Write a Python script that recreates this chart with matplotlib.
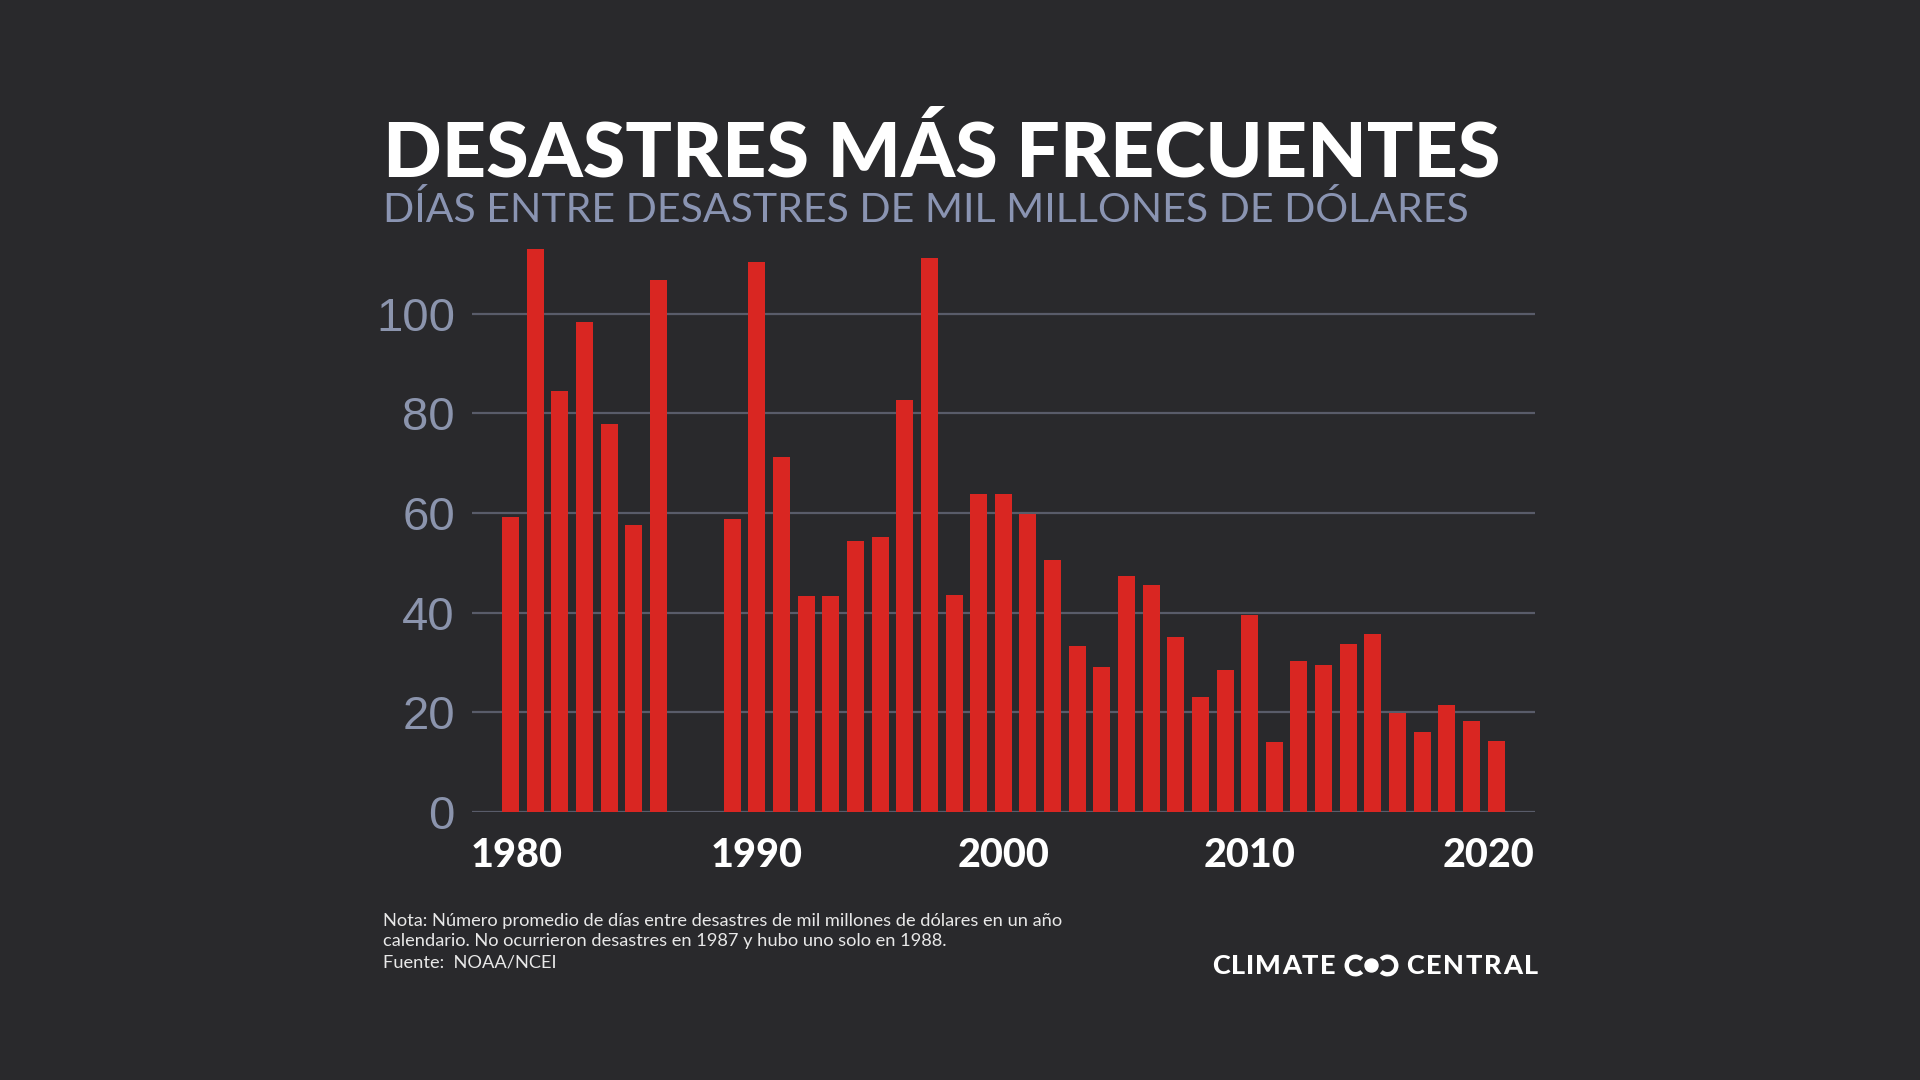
import matplotlib
matplotlib.use("Agg")
import matplotlib.pyplot as plt
from matplotlib.patches import Arc, Circle
from matplotlib.transforms import blended_transform_factory, offset_copy

# ---------------- data ----------------
years = [1980, 1981, 1982, 1983, 1984, 1985, 1986,
         1989, 1990, 1991, 1992, 1993, 1994, 1995, 1996, 1997, 1998, 1999,
         2000, 2001, 2002, 2003, 2004, 2005, 2006, 2007, 2008, 2009,
         2010, 2011, 2012, 2013, 2014, 2015, 2016, 2017, 2018, 2019, 2020]
days_between = [59.3, 113.0, 84.6, 98.4, 77.9, 57.5, 106.8,
                58.9, 110.4, 71.2, 43.4, 43.4, 54.3, 55.1, 82.6, 111.2, 43.5, 63.9,
                63.9, 59.9, 50.5, 33.4, 29.1, 47.3, 45.5, 35.1, 23.1, 28.4,
                39.5, 14.0, 30.2, 29.4, 33.7, 35.8, 19.9, 16.0, 21.4, 18.3, 14.3]
x_tick_years = [1980, 1990, 2000, 2010, 2020]
y_ticks = [0, 20, 40, 60, 80, 100]

title = "DESASTRES MÁS FRECUENTES"
subtitle = "DÍAS ENTRE DESASTRES DE MIL MILLONES DE DÓLARES"
note_lines = ["Nota: Número promedio de días entre desastres de mil millones de dólares en un año",
              "calendario. No ocurrieron desastres en 1987 y hubo uno solo en 1988.",
              "Fuente:  NOAA/NCEI"]

# ---------------- style ----------------
BG = "#29292c"
BAR = "#d92622"
GRID = "#595c6a"
YTICK = "#8b94ad"
SUB = "#8a94b2"
WHITE = "#ffffff"
NOTE = "#e8e8e8"
HEAVY = "Lato"

W, H = 1920, 1080
fig = plt.figure(figsize=(19.2, 10.8), dpi=100, facecolor=BG)

# main axes (pixel geometry of the reference)
ax_left, ax_right, ax_zero, px_per_unit = 471.6, 1535.0, 811.9, 4.981
ymax = 115
ax = fig.add_axes([ax_left / W, (H - ax_zero) / H, (ax_right - ax_left) / W,
                   ymax * px_per_unit / H])
ax.set_facecolor(BG)
ax.bar(years, days_between, width=0.69, color=BAR, zorder=3)
ax.set_xlim(1978.42, 2021.58)
ax.set_ylim(0, ymax)
ax.set_yticks(y_ticks)
ax.yaxis.grid(True, color=GRID, lw=1.6, zorder=0)
ax.set_axisbelow(True)
for s in ax.spines.values():
    s.set_visible(False)
ax.tick_params(axis="y", length=0, pad=12, labelsize=34, labelcolor=YTICK)
for lab in ax.get_yticklabels():
    lab.set_fontfamily("Liberation Sans")
ax.set_xticks([])

# x labels placed via data coordinates
trans = blended_transform_factory(ax.transData, fig.transFigure)
offsets = {1980: 6, 2020: -8}
for yr in x_tick_years:
    t = offset_copy(trans, fig=fig, x=offsets.get(yr, 0), y=0, units="dots")
    ax.text(yr, (H - 866.7) / H, str(yr), transform=t, ha="center", va="baseline",
            fontsize=28.5, fontfamily=HEAVY, fontweight="black", color=WHITE)

# overlay in pixel coordinates
ov = fig.add_axes([0, 0, 1, 1], facecolor="none")
ov.set_xlim(0, W)
ov.set_ylim(H, 0)
ov.axis("off")

renderer = fig.canvas.get_renderer()


def fit_text(x, y, s, target_w, size, **kw):
    t = ov.text(x, y, s, fontsize=size, va="baseline", ha="left", **kw)
    for _ in range(3):
        w = t.get_window_extent(renderer).width
        size = size * target_w / w
        t.set_fontsize(size)
    return t


def tracked(x0, x1, y, s, size, **kw):
    parts = []
    widths = []
    for ch in s:
        t = ov.text(0, y, ch, fontsize=size, va="baseline", ha="left", **kw)
        parts.append(t)
        widths.append(t.get_window_extent(renderer).width)
    gap = (x1 - x0 - sum(widths)) / (len(s) - 1)
    x = x0
    for t, w in zip(parts, widths):
        t.set_x(x)
        x += w + gap


fit_text(383, 176.7, title, 1116, 50, fontfamily=HEAVY, fontweight="black", color=WHITE)
fit_text(383, 222, subtitle, 1083, 30, fontfamily="Lato", fontweight="normal", color=SUB)

nt = fit_text(383, 926, note_lines[0], 681, 13, fontfamily="Lato", color=NOTE)
ns = nt.get_fontsize()
ov.text(383, 946, note_lines[1], fontsize=ns, fontfamily="Lato", color=NOTE,
        va="baseline", ha="left")
ov.text(383, 968, note_lines[2], fontsize=ns, fontfamily="Lato", color=NOTE,
        va="baseline", ha="left")

# logo
tracked(1212, 1335, 974, "CLIMATE", 19.5, fontfamily="Lato", fontweight="black", color=WHITE)
tracked(1406, 1538, 974, "CENTRAL", 19.5, fontfamily="Lato", fontweight="black", color=WHITE)
cy = 965.5
ov.add_patch(Arc((1355.5, cy), 17.5, 17.5, theta1=45, theta2=315, lw=3.2, color=WHITE))
ov.add_patch(Arc((1387.5, cy), 17.5, 17.5, theta1=-135, theta2=135, lw=3.2, color=WHITE))
ov.add_patch(Circle((1371.5, cy), 6.5, color=WHITE))

fig.savefig("out.png", dpi=100, facecolor=BG)
